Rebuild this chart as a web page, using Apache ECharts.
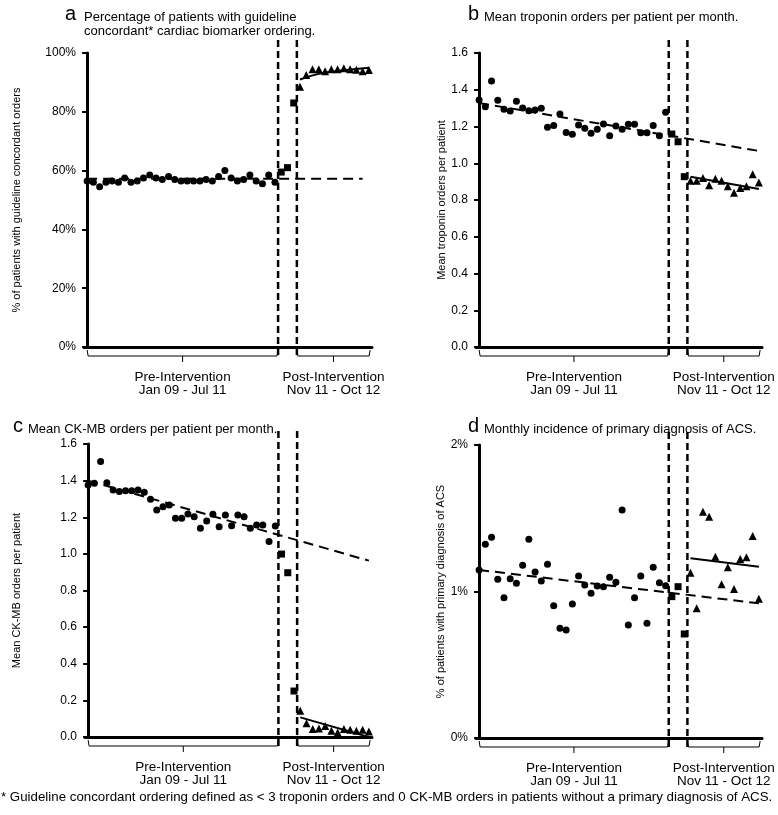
<!DOCTYPE html>
<html><head><meta charset="utf-8">
<script src="https://cdn.jsdelivr.net/npm/echarts@6/dist/echarts.min.js"></script>
<style>html,body{margin:0;padding:0;background:#fff}#c{width:778px;height:815px}</style>
</head><body><div id="c"></div>
<script>
// months Jan 09 .. Oct 12 (46 months): 31 pre, 3 transition, 12 post
const months = [];
(function(){const m=['Jan','Feb','Mar','Apr','May','Jun','Jul','Aug','Sep','Oct','Nov','Dec'];
for(let y=9;y<=12;y++)for(let i=0;i<12;i++){if(y===12&&i>9)break;months.push(m[i]+' '+String(y).padStart(2,'0'));}})();
const nPre = 31, nTrans = 3, nPost = 12;

// Panel a: % guideline concordant
const aPre = [56.5,56,54.5,56,56.5,56,57.5,56,56.5,57.5,58.5,57.5,57,58,57,56.5,56.5,56.5,56.5,57,56.5,58,60,57.5,56.5,57,58.5,56.5,55.5,58.5,56];
const aTrans = [59.5,61,83];
const aPost = [88.5,92.5,94.5,94.5,93.8,94.5,94.5,94.8,94.5,94.3,93.8,94.2];
const aPreTrendM = [0,44], aPreTrend = [57.2,57.2];
const aPostTrendM = [34,37,41,45], aPostTrend = [91.0,92.9,94.1,95.0];

// Panel b: mean troponin orders
const bPre = [1.344,1.308,1.448,1.343,1.294,1.284,1.337,1.301,1.286,1.29,1.299,1.196,1.205,1.268,1.168,1.158,1.208,1.19,1.163,1.185,1.214,1.15,1.203,1.185,1.212,1.212,1.166,1.166,1.205,1.15,1.277];
const bTrans = [1.159,1.117,0.927];
const bPost = [0.905,0.905,0.92,0.88,0.915,0.905,0.875,0.84,0.865,0.875,0.94,0.895];
const bPreTrendM = [0,45], bPreTrend = [1.328,1.067];
const bPostTrendM = [34,45], bPostTrend = [0.927,0.86];

// Panel c: mean CK-MB orders
const cPre = [1.376,1.386,1.504,1.389,1.349,1.34,1.345,1.345,1.349,1.336,1.298,1.24,1.258,1.267,1.194,1.194,1.218,1.203,1.14,1.18,1.216,1.148,1.212,1.154,1.212,1.203,1.14,1.158,1.158,1.067,1.152];
const cTrans = [0.999,0.897,0.251];
const cPost = [0.144,0.075,0.044,0.046,0.06,0.034,0.025,0.044,0.04,0.034,0.04,0.03];
const cPreTrendM = [0,45], cPreTrend = [1.40,0.963];
const cPostTrendM = [34,45], cPostTrend = [0.107,0.0];

// Panel d: monthly incidence of primary diagnosis of ACS (%)
const dPre = [1.147,1.322,1.37,1.083,0.958,1.087,1.056,1.179,1.356,1.133,1.072,1.186,0.903,0.749,0.737,0.915,1.106,1.044,0.988,1.038,1.033,1.097,1.063,1.556,0.771,0.958,1.106,0.783,1.165,1.06,1.04];
const dTrans = [0.965,1.033,0.71];
const dPost = [1.128,0.885,1.545,1.511,1.238,1.049,1.165,1.017,1.222,1.234,1.379,0.951];
const dPreTrendM = [0,45], dPreTrend = [1.147,0.919];
const dPostTrendM = [34,45], dPostTrend = [1.227,1.169];

const titles = [
  ['a','Percentage of patients with guideline','concordant* cardiac biomarker ordering.'],
  ['b','Mean troponin orders per patient per month.',''],
  ['c','Mean CK-MB orders per patient per month.',''],
  ['d','Monthly incidence of primary diagnosis of ACS.','']
];
const yNames = ['% of patients with guideline concordant orders','Mean troponin orders per patient','Mean CK-MB orders per patient','% of patients with primary diagnosis of ACS'];
const bracketText = [['Pre-Intervention','Jan 09 - Jul 11'],['Post-Intervention','Nov 11 - Oct 12']];
const footnote = '* Guideline concordant ordering defined as < 3 troponin orders and 0 CK-MB orders in patients without a primary diagnosis of ACS.';

const panels = [
  {pre:aPre,tr:aTrans,post:aPost,ptm:aPreTrendM,pt:aPreTrend,qtm:aPostTrendM,qt:aPostTrend,smooth:true,min:0,max:100,interval:20,fmt:v=>v+'%'},
  {pre:bPre,tr:bTrans,post:bPost,ptm:bPreTrendM,pt:bPreTrend,qtm:bPostTrendM,qt:bPostTrend,min:0,max:1.6,interval:0.2,fmt:v=>v.toFixed(1)},
  {pre:cPre,tr:cTrans,post:cPost,ptm:cPreTrendM,pt:cPreTrend,qtm:cPostTrendM,qt:cPostTrend,min:0,max:1.6,interval:0.2,fmt:v=>v.toFixed(1)},
  {pre:dPre,tr:dTrans,post:dPost,ptm:dPreTrendM,pt:dPreTrend,qtm:dPostTrendM,qt:dPostTrend,min:0,max:2,interval:1,fmt:v=>v+'%'}
];
const grids = [
  {left:84,top:53,width:288,height:294},
  {left:476,top:53,width:286,height:294},
  {left:85,top:444,width:287,height:293},
  {left:476,top:445,width:286,height:293}
];
const FONT = 'Liberation Sans, Arial, sans-serif';
const chart = echarts.init(document.getElementById('c'),null,{renderer:'canvas'});
const option = {animation:false,backgroundColor:'#fff',grid:[],xAxis:[],yAxis:[],series:[],graphic:[]};
panels.forEach((p,i)=>{
  option.grid.push(grids[i]);
  option.xAxis.push({type:'value',gridIndex:i,min:-0.5,max:45.5,
    axisLine:{show:true,onZero:false,lineStyle:{color:'#000',width:3}},axisTick:{show:false},axisLabel:{show:false},splitLine:{show:false}});
  option.yAxis.push({type:'value',gridIndex:i,min:p.min,max:p.max,interval:p.interval,
    name:yNames[i],nameLocation:'middle',nameGap:i===0?62:(i===2?63:20),nameRotate:90,
    nameTextStyle:{fontFamily:FONT,fontSize:11,color:'#000'},
    axisLine:{show:true,lineStyle:{color:'#000',width:3}},
    axisTick:{show:true,length:5,lineStyle:{color:'#000',width:2}},
    axisLabel:{formatter:p.fmt,fontFamily:FONT,fontSize:12,color:'#000',margin:8},splitLine:{show:false}});
  const sc = (arr,off,sym,size)=>({type:'scatter',xAxisIndex:i,yAxisIndex:i,symbol:sym,symbolSize:size,
    itemStyle:{color:'#000',opacity:1},data:arr.map((v,k)=>[off+k,v]),z:3});
  option.series.push(sc(p.pre,0,'circle',7));
  option.series.push(sc(p.tr,nPre,'rect',7));
  option.series.push(sc(p.post,nPre+nTrans,'triangle',8));
  option.series.push({type:'line',xAxisIndex:i,yAxisIndex:i,symbol:'none',
    lineStyle:{color:'#000',width:2,type:[10,6]},data:p.ptm.map((m,k)=>[m,p.pt[k]]),z:2});
  option.series.push({type:'line',xAxisIndex:i,yAxisIndex:i,symbol:'none',smooth:!!p.smooth,
    lineStyle:{color:'#000',width:2},data:p.qtm.map((m,k)=>[m,p.qt[k]]),z:2});
});
chart.setOption(option);

// annotations: titles, dashed intervention lines, brackets
const g = [];
const tx = (x,y,text,size,align)=>g.push({type:'text',x:x,y:y,style:{text:text,fontFamily:FONT,fontSize:size,fill:'#000',align:align||'left',verticalAlign:'middle'}});
const titlePos = [[65,84,16],[468,484,16],[13,28,428],[468,484,428]];
titles.forEach((t,i)=>{
  const [lx,tx0,ty]=titlePos[i];
  tx(lx,ty-2,t[0],20,'left');
  tx(tx0,ty+1,t[1],13,'left');
  if(t[2]) tx(tx0,ty+15,t[2],13,'left');
});
panels.forEach((p,i)=>{
  const X = v=>chart.convertToPixel({xAxisIndex:i},v);
  const yAx = chart.convertToPixel({yAxisIndex:i},p.min);
  const yTop = chart.convertToPixel({yAxisIndex:i},p.max);
  const d1 = X(nPre-0.5), d2 = X(nPre+nTrans-0.5);
  [d1,d2].forEach(x=>g.push({type:'line',shape:{x1:x,y1:yTop-13,x2:x,y2:yAx+9},style:{stroke:'#000',lineWidth:2.5,lineDash:[7,4]},z:5}));
  const br = [[X(0),d1],[d2,X(45.2)]];
  br.forEach((b,k)=>{
    const [xa,xb]=b, yb=yAx+9, xm=(xa+xb)/2;
    g.push({type:'polyline',shape:{points:[[xa,yAx+3],[xa+1,yb],[xb-1,yb],[xb,yAx+3]]},style:{stroke:'#000',lineWidth:1,fill:null}});
    g.push({type:'line',shape:{x1:xm,y1:yb,x2:xm,y2:yb+6},style:{stroke:'#000',lineWidth:1}});
    tx(xm,yAx+30,bracketText[k][0],13.5,'center');
    tx(xm,yAx+43,bracketText[k][1],13.5,'center');
  });
});
tx(1,797,footnote,13.3,'left');
chart.setOption({graphic:g});
</script></body></html>
